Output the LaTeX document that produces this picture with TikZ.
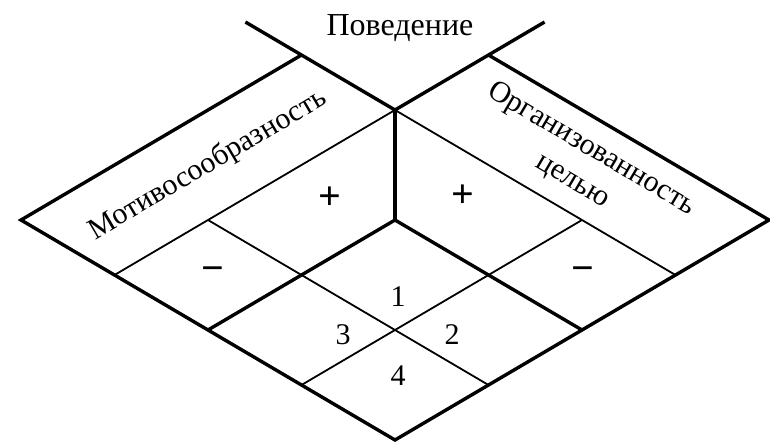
\documentclass[tikz,border=0pt]{standalone}
\usepackage{fontspec}
\setmainfont{Liberation Serif}
\usetikzlibrary{positioning}

\begin{document}
\begin{tikzpicture}[x={(46.75pt,-27.5pt)},y={(-46.75pt,-27.5pt)},
  rim/.style={line width=1.7pt},
  cut/.style={line width=0.9pt},
  word/.style={font=\fontsize{15}{18.5}\selectfont},
  sign/.style={font=\fontsize{20}{24}\selectfont\bfseries}]
  \useasboundingbox (-197.5pt,-165.5pt) rectangle (187.5pt,55pt);
  % inner grid lines
  \draw[cut] (0,0) -- (0,3);
  \draw[cut] (0,0) -- (3,0);
  \draw[cut] (0,2) -- (3,2);
  \draw[cut] (2,0) -- (2,3);
  % corner of the cube
  \draw[rim] (-1.6,0) -- (0,0) -- (0,-1.6);
  \draw[rim] (0,0) -- (1,1);
  % outer border and floor cell
  \draw[rim] (-1,0) -- (-1,3) -- (3,3) -- (3,-1) -- (0,-1);
  \draw[rim] (1,3) -- (1,1) -- (3,1);
  % headings
  \node[word,font=\fontsize{16}{19}\selectfont,anchor=base] (title)
       at (2.5pt,37.5pt) {Поведение};
  \node[word,rotate=30.5] (motive) at (-0.5,1.5) {Мотивосообразность};
  \node[word,rotate=-30.5,align=center] (goal) at (1.5,-0.5)
       {Организованность\\целью};
  % signs on the walls
  \node[sign] (plusL) at (-32.5pt,-44pt) {+};
  \node[sign] (plusR) at (34pt,-43pt) {+};
  \node[sign] (minusL) at (-91pt,-82pt) {−};
  \node[sign] (minusR) at (94pt,-82pt) {−};
  % cells of the floor
  \node[word] (one) at (1.5pt,-93.5pt) {1};
  \node[word] (two) at (28.5pt,-112.5pt) {2};
  \node[word] (three) at (-26pt,-112.5pt) {3};
  \node[word] (four) at (1.5pt,-133pt) {4};
\end{tikzpicture}
\end{document}
